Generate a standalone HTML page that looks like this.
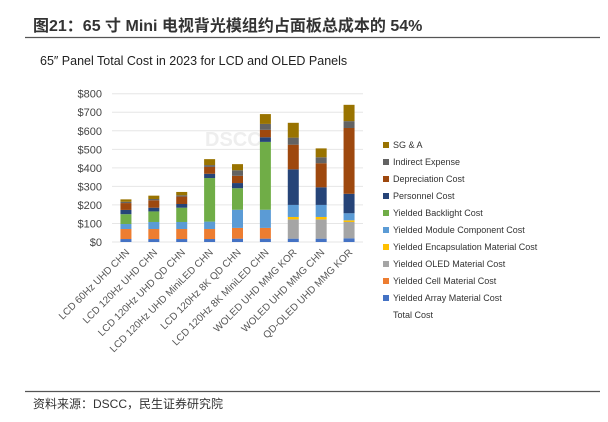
<!DOCTYPE html>
<html><head><meta charset="utf-8"><style>
body{margin:0;width:608px;height:417px;background:#fff;overflow:hidden;font-family:"Liberation Sans","Noto Sans CJK SC",sans-serif}
</style></head><body>
<svg width="608" height="417" xmlns="http://www.w3.org/2000/svg">
<text x="33" y="31" font-size="16" font-weight="bold" fill="#333" font-family="Liberation Sans,Noto Sans CJK SC,sans-serif">图21：65 寸 Mini 电视背光模组约占面板总成本的 54%</text>
<line x1="25" y1="37.5" x2="600" y2="37.5" stroke="#555" stroke-width="1.2"/>
<text x="40" y="65" font-size="12.5" fill="#222">65″ Panel Total Cost in 2023 for LCD and OLED Panels</text>
<text x="205" y="146" font-size="20" font-weight="bold" fill="#eee">DSCC</text>
<g id="chart"></g>
<line x1="25" y1="391.5" x2="600" y2="391.5" stroke="#555" stroke-width="1.2"/>
<text x="33" y="408" font-size="12" fill="#333">资料来源：DSCC，民生证券研究院</text>
</svg>
<script>
const categories=["LCD 60Hz UHD CHN","LCD 120Hz UHD CHN","LCD 120Hz UHD QD CHN","LCD 120Hz UHD MiniLED CHN","LCD 120Hz 8K QD CHN","LCD 120Hz 8K MiniLED CHN","WOLED UHD  MMG  KOR","WOLED UHD  MMG  CHN","QD-OLED UHD  MMG  KOR"];
const arrayCost=[16,16,16,16,18,18,18,18,20];
const cellCost=[54,54,54,54,58,58,0,0,0];
const oledCost=[0,0,0,0,0,0,104,104,88];
const encapCost=[0,0,0,0,0,0,13,13,9];
const moduleCost=[27,38,38,40,98,98,65,65,38];
const backlightCost=[53,57,77,235,116,366,0,0,0];
const personnelCost=[23,20,20,23,28,25,192,95,105];
const depreciationCost=[37,40,40,37,39,40,133,130,355];
const indirectCost=[7,7,7,10,30,32,38,32,37];
const sgaCost=[13,18,18,32,33,53,80,48,88];
const yTicks=[0,100,200,300,400,500,600,700,800];
const seriesNames=["Yielded Array Material Cost","Yielded Cell Material Cost","Yielded OLED Material Cost","Yielded Encapsulation Material Cost","Yielded Module Component Cost","Yielded Backlight Cost","Personnel Cost","Depreciation Cost","Indirect Expense","SG & A"];
const series=[arrayCost,cellCost,oledCost,encapCost,moduleCost,backlightCost,personnelCost,depreciationCost,indirectCost,sgaCost];
const colors=["#4472C4","#ED7D31","#A5A5A5","#FFC000","#5B9BD5","#70AD47","#264478","#9E480E","#636363","#997300"];
const NS="http://www.w3.org/2000/svg";
const g=document.getElementById('chart');
const x0=112,x1=363,yB=242,yT=93.7;
const y=v=>yB-(v/800)*(yB-yT);
const step=(x1-x0)/categories.length;
const xc=i=>x0+step*(i+0.5);
function el(t,a){const e=document.createElementNS(NS,t);for(const k in a)e.setAttribute(k,a[k]);g.appendChild(e);return e;}
yTicks.forEach(v=>{
 const l=el('line',{x1:x0,x2:x1,y1:y(v),y2:y(v),stroke:'#e6e6e6','stroke-width':1});
 
 
 const t=el('text',{x:102,y:y(v)+4,'text-anchor':'end','font-size':11,fill:'#444'});
 t.textContent='$'+v;
 
 
});
categories.forEach((c,i)=>{
 let acc=0;
 series.forEach((s,k)=>{
  const v=s[i]; if(!v){return;}
  const r=el('rect',{x:xc(i)-5.5,width:11,y:y(acc+v),height:y(acc)-y(acc+v),fill:colors[k]});
  
  
  acc+=v;
 });
 const t=el('text',{x:0,y:0,'text-anchor':'end','font-size':10,fill:'#555',transform:`translate(${xc(i)+4},${253}) rotate(-45)`});
 t.textContent=c;
 
 
});
for(let k=seriesNames.length-1;k>=0;k--){
 const row=seriesNames.length-1-k;
 const yy=145+row*17;
 const r=el('rect',{x:383,y:yy-3,width:6,height:6,fill:colors[k]});
 
 
 const t=el('text',{x:393,y:yy+3,'font-size':9,fill:'#333'});
 t.textContent=seriesNames[k];
 
 
}
const tt=el('text',{x:393,y:145+10*17+3,'font-size':9,fill:'#333'});
tt.textContent='Total Cost';


</script>
</body></html>
